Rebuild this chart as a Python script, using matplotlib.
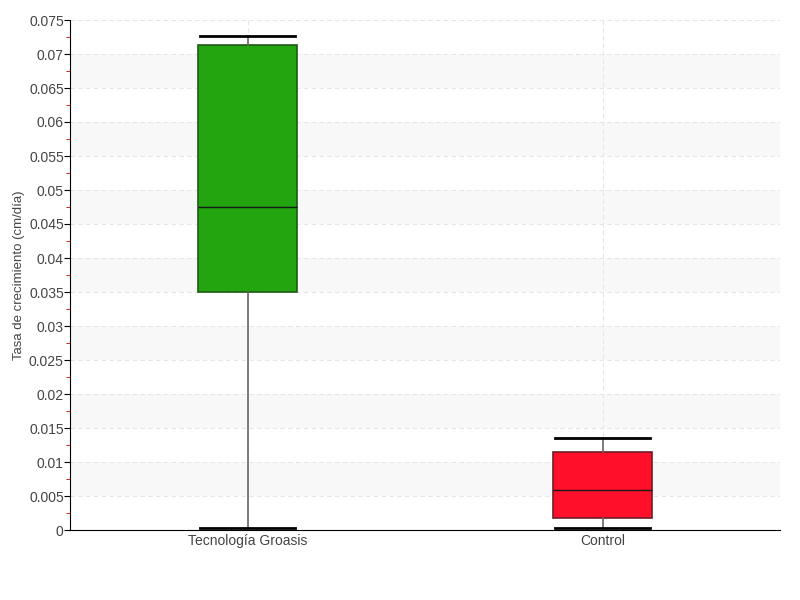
import matplotlib
matplotlib.use('Agg')
import matplotlib.pyplot as plt
from matplotlib.ticker import MultipleLocator, FuncFormatter

plt.rcParams['font.family'] = ['Liberation Sans', 'DejaVu Sans']

# datos
categorias = ["Tecnología Groasis", "Control"]
bigote_inf = [0.0003, 0.0003]
q1 = [0.0350, 0.00176]
mediana = [0.0475, 0.00588]
q3 = [0.0713, 0.01147]
bigote_sup = [0.0726, 0.01353]
colores = ["#22a50f", "#ff0f2a"]
bordes = ["#1f5a16", "#6b1f28"]

posiciones = [0.5, 1.5]

fig = plt.figure(figsize=(8, 6), dpi=100)
ax = fig.add_axes([70 / 800, 70 / 600, 710 / 800, 510 / 600])

# bandas alternas de fondo
for k in range(1, 15, 2):
    ax.axhspan(k * 0.005, (k + 1) * 0.005, color='#f8f8f8', zorder=0, lw=0)

stats = []
for i in range(len(categorias)):
    stats.append({
        'whislo': bigote_inf[i], 'q1': q1[i], 'med': mediana[i],
        'q3': q3[i], 'whishi': bigote_sup[i], 'fliers': [], 'label': categorias[i],
    })

res = ax.bxp(stats, positions=posiciones, widths=0.28, patch_artist=True,
             showfliers=False, capwidths=0.27,
             whiskerprops=dict(color='#666666', lw=1.2),
             capprops=dict(color='black', lw=2),
             medianprops=dict(color='#1a1a1a', lw=1))
for caja, c, b in zip(res['boxes'], colores, bordes):
    caja.set_facecolor(c)
    caja.set_edgecolor(b)
    caja.set_linewidth(1.2)
for a in res['whiskers'] + res['caps'] + res['medians'] + res['boxes']:
    a.set_zorder(3)

ax.set_xlim(0, 2)
ax.set_ylim(0, 0.075)
ax.yaxis.set_major_locator(MultipleLocator(0.005))
ax.yaxis.set_minor_locator(MultipleLocator(0.0025))
ax.yaxis.set_major_formatter(FuncFormatter(lambda v, p: ('%.3f' % v).rstrip('0').rstrip('.') if v else '0'))
ax.grid(axis='y', which='major', color='#e6e6e6', ls=(0, (4, 3)), lw=0.8, zorder=1)
ax.grid(axis='x', which='major', color='#e6e6e6', ls=(0, (4, 3)), lw=0.8, zorder=1)
ax.set_axisbelow(True)

for s in ['top', 'right']:
    ax.spines[s].set_visible(False)
ax.spines['left'].set_color('black')
ax.spines['bottom'].set_color('black')

ax.tick_params(axis='y', which='major', length=4, color='black', labelsize=10, labelcolor='#444444', pad=0.5)
ax.tick_params(axis='y', which='minor', length=3, color='#cc0000')
ax.tick_params(axis='x', length=0, labelsize=10, labelcolor='#444444', pad=3)
ax.set_xticks(posiciones)
ax.set_xticklabels(categorias)

ax.set_ylabel("Tasa de crecimiento (cm/día)", fontsize=9.5, color='#444444', labelpad=3)

fig.savefig('out.png', dpi=100)
